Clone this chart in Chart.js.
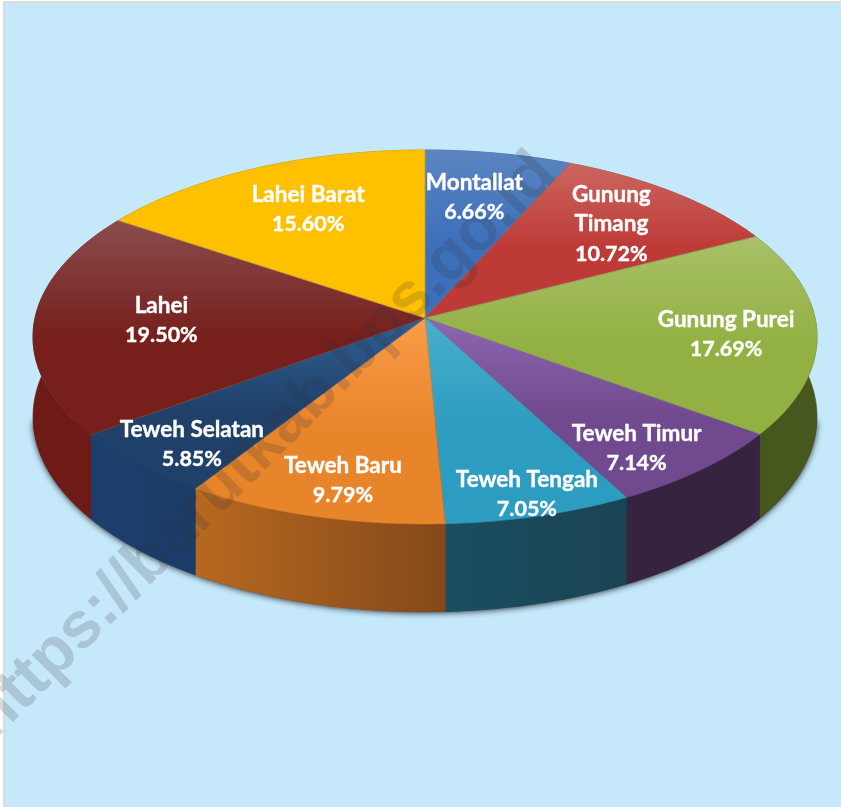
<!DOCTYPE html>
<html>
<head>
<meta charset="utf-8">
<title>Kecamatan</title>
<script src="https://cdn.jsdelivr.net/npm/chart.js@4"></script>
<style>
  html, body { margin: 0; padding: 0; background: #fff; overflow: hidden; }
  .frame {
    position: absolute; left: 3px; top: 1px; width: 850px; height: 820px;
    background: #c5e8fb; border: 2px solid #dcdcdc;
  }
  .wrap { position: absolute; left: 0; top: 0; width: 841px; height: 807px; }
</style>
</head>
<body>
<div class="frame"></div>
<div class="wrap"><canvas class="js-pie" width="841" height="807"></canvas></div>
<script>
const categories = ["Montallat", "Gunung\nTimang", "Gunung Purei", "Teweh Timur", "Teweh Tengah",
  "Teweh Baru", "Teweh Selatan", "Lahei", "Lahei Barat"];
const shares = [6.66, 10.72, 17.69, 7.14, 7.05, 9.79, 5.85, 19.5, 15.6];

const topLight = ["#5a85c0", "#cb6660", "#a8c168", "#8c68b0", "#48aecb", "#fb9c48", "#2f5f94", "#8a4c4c", "#ffc000"];
const topDark = ["#3d70bb", "#bd3a36", "#93b043", "#71498f", "#2c9cc0", "#e8842a", "#1f4169", "#761f1c", "#ffc000"];
const wallLeft = ["#2b4a78", "#7a2a28", "#3d4d1a", "#36233f", "#1a4f62", "#b8691f", "#1c3f6e", "#6e1a16", "#8a6a00"];
const wallRight = ["#2b4a78", "#7a2a28", "#47581f", "#36233f", "#1a4454", "#84491a", "#1b3559", "#6e1a16", "#8a6a00"];

// where each label sits on the disc: radius share and nudge from the slice middle (degrees)
const labelRadius = [0.71, 0.735, 0.77, 0.83, 0.9, 0.83, 0.85, 0.675, 0.7];
const labelNudge = [-1, 0, 2, 3.3, 0, -1.5, -2, 0, 1];

const watermark = "https://barutkab.bps.go.id";

// tilted disc with a bit of perspective, the apex is not in the middle of the ellipse
const view = { cx: 425, cy: 318, ax: 390, ay: 185, k: -0.1016, depth: 79 };

const project = function (angle, r, drop) {
  // chart.js angles start at -PI/2 (top) and run clockwise
  const x = Math.cos(angle) * r;
  const y = Math.sin(angle) * r;
  const d = 1 + view.k * y;
  return {
    x: view.cx + (view.ax * x) / d,
    y: view.cy + (view.ay * y) / d + (drop ? view.depth / d : 0),
  };
};

const tracePoints = function (ctx, start, end, drop, reverse) {
  const n = Math.max(2, Math.ceil((end - start) / 0.01));
  for (let i = 0; i <= n; i++) {
    const t = reverse ? 1 - i / n : i / n;
    const p = project(start + (end - start) * t, 1, drop);
    ctx.lineTo(p.x, p.y);
  }
};

const wallPath = function (ctx, arc) {
  ctx.beginPath();
  tracePoints(ctx, arc.startAngle, arc.endAngle, false, false);
  tracePoints(ctx, arc.startAngle, arc.endAngle, true, true);
  ctx.closePath();
};

const topPath = function (ctx, arc) {
  const c = project(0, 0, false);
  ctx.beginPath();
  ctx.moveTo(c.x, c.y);
  tracePoints(ctx, arc.startAngle, arc.endAngle, false, false);
  ctx.closePath();
};

const boxOf = function (arc) {
  const box = { x0: view.cx, x1: view.cx, y0: view.cy, y1: view.cy };
  for (let i = 0; i <= 40; i++) {
    const p = project(arc.startAngle + ((arc.endAngle - arc.startAngle) * i) / 40, 1, false);
    box.x0 = Math.min(box.x0, p.x);
    box.x1 = Math.max(box.x1, p.x);
    box.y0 = Math.min(box.y0, p.y);
    box.y1 = Math.max(box.y1, p.y);
  }
  return box;
};

const tiltedPie = {
  id: "tiltedPie",
  beforeDatasetsDraw(chart) {
    const ctx = chart.ctx;
    const arcs = chart.getDatasetMeta(0).data;

    // soft shadow under the cylinder, front rim only so it fades out at the sides
    ctx.save();
    ctx.shadowColor = "rgba(0,0,0,0.8)";
    ctx.shadowBlur = 6;
    ctx.shadowOffsetY = 1;
    ctx.fillStyle = "#333";
    ctx.beginPath();
    tracePoints(ctx, 0.12, Math.PI - 0.12, true, false);
    ctx.closePath();
    ctx.fill();
    ctx.restore();

    arcs.forEach((arc, i) => {
      const box = boxOf(arc);
      const grad = ctx.createLinearGradient(box.x0, 0, box.x1, 0);
      grad.addColorStop(0, wallLeft[i]);
      grad.addColorStop(1, wallRight[i]);
      wallPath(ctx, arc);
      ctx.fillStyle = grad;
      ctx.strokeStyle = grad;
      ctx.lineWidth = 0.6;
      ctx.fill();
      ctx.stroke();
    });

    arcs.forEach((arc, i) => {
      const box = boxOf(arc);
      const grad = ctx.createLinearGradient(0, box.y0, 0, box.y1);
      grad.addColorStop(0, topLight[i]);
      grad.addColorStop(0.55, topDark[i]);
      grad.addColorStop(1, topDark[i]);
      topPath(ctx, arc);
      ctx.fillStyle = grad;
      ctx.strokeStyle = grad;
      ctx.lineWidth = 0.6;
      ctx.fill();
      ctx.stroke();
    });

    // faint seams between the slices
    ctx.strokeStyle = "rgba(110,110,110,0.35)";
    ctx.lineWidth = 1;
    arcs.forEach((arc) => {
      const c = project(0, 0, false);
      const p = project(arc.startAngle, 1, false);
      ctx.beginPath();
      ctx.moveTo(c.x, c.y);
      ctx.lineTo(p.x, p.y);
      ctx.stroke();
    });
    return false;
  },
  // afterDatasetsDraw is skipped once beforeDatasetsDraw returns false
  afterDraw(chart) {
    const ctx = chart.ctx;
    const arcs = chart.getDatasetMeta(0).data;

    ctx.save();
    ctx.translate(-6, 741);
    ctx.rotate((-45 * Math.PI) / 180);
    ctx.font = "bold 65px 'Liberation Sans'";
    ctx.textAlign = "left";
    ctx.textBaseline = "alphabetic";
    ctx.fillStyle = "rgba(50,50,60,0.19)";
    ctx.fillText(watermark, 0, 0);
    ctx.restore();

    ctx.save();
    ctx.fillStyle = "#fff";
    ctx.strokeStyle = "#fff";
    ctx.lineWidth = 0.4;
    ctx.textAlign = "center";
    ctx.textBaseline = "middle";
    arcs.forEach((arc, i) => {
      const mid = (arc.startAngle + arc.endAngle) / 2 + (labelNudge[i] * Math.PI) / 180;
      const p = project(mid, labelRadius[i], false);
      const names = categories[i].split("\n");
      const lines = names.concat(shares[i].toFixed(2) + "%");
      lines.forEach((line, n) => {
        ctx.font = n < names.length ? "bold 22.5px Lato" : "bold 21.5px Lato";
        const y = p.y + (n - (lines.length - 1) / 2) * 29.5;
        ctx.fillText(line, p.x, y);
        ctx.strokeText(line, p.x, y);
      });
    });
    ctx.restore();
  },
};

const init = function () {
  const pie = document.querySelector(".js-pie");
  new Chart(pie, {
    type: "pie",
    data: {
      labels: categories.map((c) => c.replace("\n", " ")),
      datasets: [{ data: shares, backgroundColor: topDark, borderWidth: 0 }],
    },
    options: {
      responsive: false,
      animation: false,
      plugins: {
        legend: { display: false },
        tooltip: { enabled: false },
      },
    },
    plugins: [tiltedPie],
  });
};

document.addEventListener("DOMContentLoaded", init);
</script>
</body>
</html>
